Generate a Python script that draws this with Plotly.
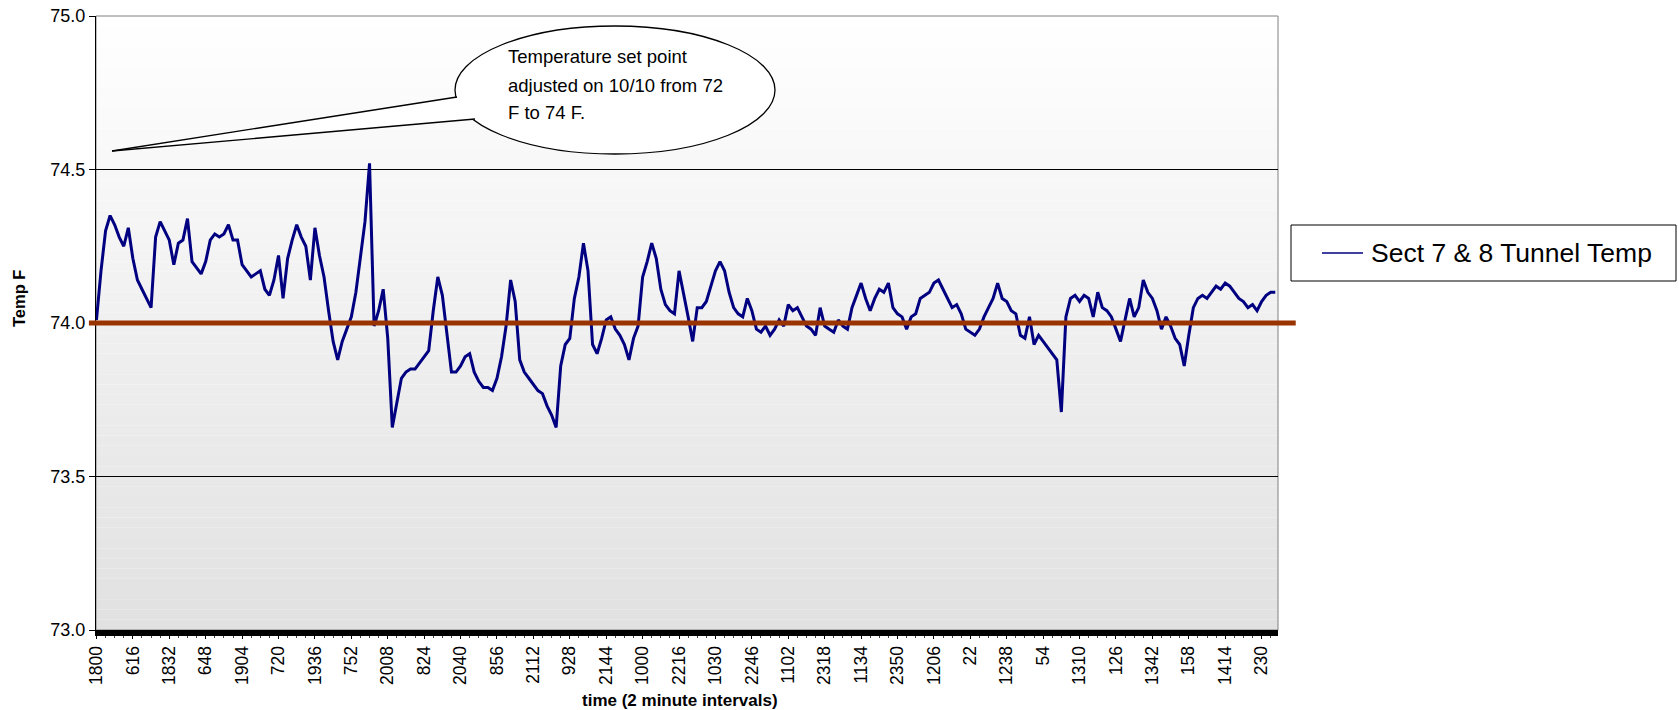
import plotly.graph_objects as go

# ---- data ----
tick_labels = ["1800", "616", "1832", "648", "1904", "720", "1936", "752", "2008", "824",
               "2040", "856", "2112", "928", "2144", "1000", "2216", "1030", "2246", "1102",
               "2318", "1134", "2350", "1206", "22", "1238", "54", "1310", "126", "1342",
               "158", "1414", "230"]

temps_a = [74.01, 74.17, 74.30, 74.35, 74.32, 74.28, 74.25, 74.31, 74.21, 74.14, 74.11, 74.08,
           74.05, 74.28, 74.33, 74.30, 74.27, 74.19, 74.26, 74.27, 74.34, 74.20, 74.18, 74.16,
           74.20, 74.27, 74.29, 74.28, 74.29, 74.32, 74.27]
temps_b = [74.27, 74.19, 74.17, 74.15, 74.16, 74.17, 74.11, 74.09, 74.14, 74.22, 74.08, 74.21,
           74.27, 74.32, 74.28, 74.25, 74.14, 74.31, 74.22, 74.15, 74.04, 73.94, 73.88, 73.94,
           73.98, 74.02, 74.10, 74.21, 74.33, 74.52, 73.99, 74.04]
temps_c = [74.11, 73.95, 73.66, 73.74, 73.82, 73.84, 73.85, 73.85, 73.87, 73.89, 73.91, 74.04,
           74.15, 74.09, 73.96, 73.84, 73.84, 73.86, 73.89, 73.90, 73.84, 73.81, 73.79, 73.79,
           73.78, 73.82, 73.89, 73.99, 74.14, 74.07, 73.88]
temps_d = [73.84, 73.82, 73.80, 73.78, 73.77, 73.73, 73.70, 73.66, 73.86, 73.93, 73.95, 74.08,
           74.15, 74.26, 74.17, 73.93, 73.90, 73.95, 74.01, 74.02, 73.98, 73.96, 73.93, 73.88,
           73.95, 73.99, 74.15, 74.20, 74.26, 74.21, 74.11, 74.06]
temps_e = [74.04, 74.03, 74.17, 74.10, 74.02, 73.94, 74.05, 74.05, 74.07, 74.12, 74.17, 74.20,
           74.17, 74.10, 74.05, 74.03, 74.02, 74.08, 74.04, 73.98, 73.97, 73.99, 73.96, 73.98,
           74.01, 73.99, 74.06, 74.04, 74.05, 74.02, 73.99, 73.98]
temps_f = [73.96, 74.05, 73.99, 73.98, 73.97, 74.01, 73.99, 73.98, 74.05, 74.09, 74.13, 74.08,
           74.04, 74.08, 74.11, 74.10, 74.13, 74.05, 74.03, 74.02, 73.98, 74.02, 74.03, 74.08,
           74.09, 74.10, 74.13, 74.14, 74.11, 74.08, 74.05]
temps_g = [74.06, 74.03, 73.98, 73.97, 73.96, 73.98, 74.02, 74.05, 74.08, 74.13, 74.08, 74.07,
           74.04, 74.03, 73.96, 73.95, 74.02, 73.93, 73.96, 73.94, 73.92, 73.90, 73.88, 73.71,
           74.02, 74.08, 74.09, 74.07, 74.09, 74.08, 74.02, 74.10]
temps_h = [74.05, 74.04, 74.02, 73.98, 73.94, 74.01, 74.08, 74.02, 74.05, 74.14, 74.10, 74.08,
           74.04, 73.98, 74.02, 73.99, 73.95, 73.93, 73.86, 73.96, 74.05, 74.08, 74.09, 74.08,
           74.10, 74.12, 74.11, 74.13, 74.12, 74.10, 74.08, 74.07, 74.05, 74.06, 74.04, 74.07,
           74.09, 74.10, 74.10]

series_name = "Sect 7 & 8 Tunnel Temp"
set_point = 74.0
samples_per_label = 8
y_ticks = [73.0, 73.5, 74.0, 74.5, 75.0]

temps = temps_a + temps_b + temps_c + temps_d + temps_e + temps_f + temps_g + temps_h
x_idx = list(range(len(temps)))
tick_vals = [i * samples_per_label for i in range(len(tick_labels))]

FONT = "Liberation Sans, Arial, sans-serif"

# ---- layout geometry (pixels) ----
W, H = 1679, 710
L, R, T, B = 96, 1278, 16, 630
pw, ph = R - L, B - T


def px(x):
    return (x - L) / pw


def py(y):
    return (B - y) / ph


fig = go.Figure()
fig.add_trace(go.Scatter(
    x=x_idx, y=temps, mode="lines", name=series_name, showlegend=False,
    line=dict(color="#000080", width=3),
))

shapes = []
# vertical gradient background of plot area
n = 60
for k in range(n):
    t = (k + 0.5) / n
    c = int(round(225 + (255 - 225) * t))
    shapes.append(dict(type="rect", xref="x domain", yref="y domain",
                       x0=0, x1=1, y0=k / n, y1=(k + 1) / n,
                       fillcolor=f"rgb({c},{c},{c})", line=dict(width=0), layer="below"))
# gray frame top/right
shapes.append(dict(type="rect", xref="x domain", yref="y domain", x0=0, x1=1, y0=0, y1=1,
                   line=dict(color="#808080", width=1), fillcolor="rgba(0,0,0,0)", layer="below"))
# set point line
shapes.append(dict(type="line", xref="x domain", yref="y", x0=-0.006, x1=1.015,
                   y0=set_point, y1=set_point, line=dict(color="#993300", width=5), layer="above"))
# callout ellipse
ecx, ecy, erx, ery = 615, 90, 160, 64
shapes.append(dict(type="circle", xref="paper", yref="paper",
                   x0=px(ecx - erx), x1=px(ecx + erx), y0=py(ecy + ery), y1=py(ecy - ery),
                   line=dict(color="black", width=1.3), fillcolor="white", layer="above"))
tip = (112, 151)
p_up = (457, 97)
p_lo = (475, 119)
shapes.append(dict(type="path", xref="paper", yref="paper",
                   path=f"M {px(tip[0])},{py(tip[1])} L {px(p_up[0]+3)},{py(p_up[1])} "
                        f"L {px(p_lo[0]+3)},{py(p_lo[1])} Z",
                   fillcolor="white", line=dict(width=0), layer="above"))
for p in (p_up, p_lo):
    shapes.append(dict(type="line", xref="paper", yref="paper",
                       x0=px(tip[0]), y0=py(tip[1]), x1=px(p[0]), y1=py(p[1]),
                       line=dict(color="black", width=1.3), layer="above"))

# legend box (drawn to match the reference's wide box)
lg_x0, lg_x1, lg_y0, lg_y1 = 1291, 1676, 225, 281
shapes.append(dict(type="rect", xref="paper", yref="paper",
                   x0=px(lg_x0), x1=px(lg_x1), y0=py(lg_y1), y1=py(lg_y0),
                   line=dict(color="black", width=1), fillcolor="white"))
shapes.append(dict(type="line", xref="paper", yref="paper",
                   x0=px(1322), x1=px(1363), y0=py(253), y1=py(253),
                   line=dict(color="#000080", width=1.5)))

annotations = []
for txt, yy in (("Temperature set point", 56), ("adjusted on 10/10 from 72", 85), ("F to 74 F.", 113)):
    annotations.append(dict(text=txt, xref="paper", yref="paper", x=px(506), y=py(yy),
                            xanchor="left", yanchor="middle", showarrow=False,
                            font=dict(family=FONT, size=18.5, color="black")))
annotations.append(dict(text=series_name, xref="paper", yref="paper", x=px(1369), y=py(253),
                        xanchor="left", yanchor="middle", showarrow=False,
                        font=dict(family=FONT, size=26.5, color="black")))
annotations.append(dict(text="<b>Temp F</b>", xref="paper", yref="paper", x=px(19), y=py(299),
                        textangle=-90, showarrow=False, xanchor="center", yanchor="middle",
                        font=dict(family=FONT, size=16.5, color="black")))
annotations.append(dict(text="<b>time (2 minute intervals)</b>", xref="paper", yref="paper",
                        x=px(680), y=py(700), showarrow=False, xanchor="center", yanchor="middle",
                        font=dict(family=FONT, size=17, color="black")))

fig.update_layout(
    width=W, height=H,
    margin=dict(l=L, r=W - R, t=T, b=H - B, autoexpand=False),
    paper_bgcolor="white", plot_bgcolor="white",
    font=dict(family=FONT, color="black"),
    shapes=shapes, annotations=annotations,
    showlegend=False,
    xaxis=dict(range=[-0.1, len(temps) - 0.4], tickmode="array", tickvals=tick_vals,
               ticktext=tick_labels, tickangle=-90, showgrid=False, zeroline=False,
               showline=True, linecolor="black", linewidth=6,
               ticks="outside", ticklen=3, tickcolor="black", tickwidth=1,
               minor=dict(ticks="outside", ticklen=2, dtick=2, tickcolor="#444444", tickwidth=1,
                          showgrid=False),
               tickfont=dict(family=FONT, size=17.5, color="black")),
    yaxis=dict(range=[73, 75], tickmode="array", tickvals=y_ticks,
               ticktext=[f"{v:.1f}" for v in y_ticks],
               showgrid=True, gridcolor="black", gridwidth=1, zeroline=False,
               showline=True, linecolor="black", linewidth=1,
               ticks="outside", ticklen=6, tickcolor="black",
               tickfont=dict(family=FONT, size=18, color="black")),
)

fig.write_html(
    "out.html",
    config={"displayModeBar": False},
    post_script="document.body.style.margin='0px';document.body.style.padding='0px';"
                "document.body.style.overflow='hidden';",
)
